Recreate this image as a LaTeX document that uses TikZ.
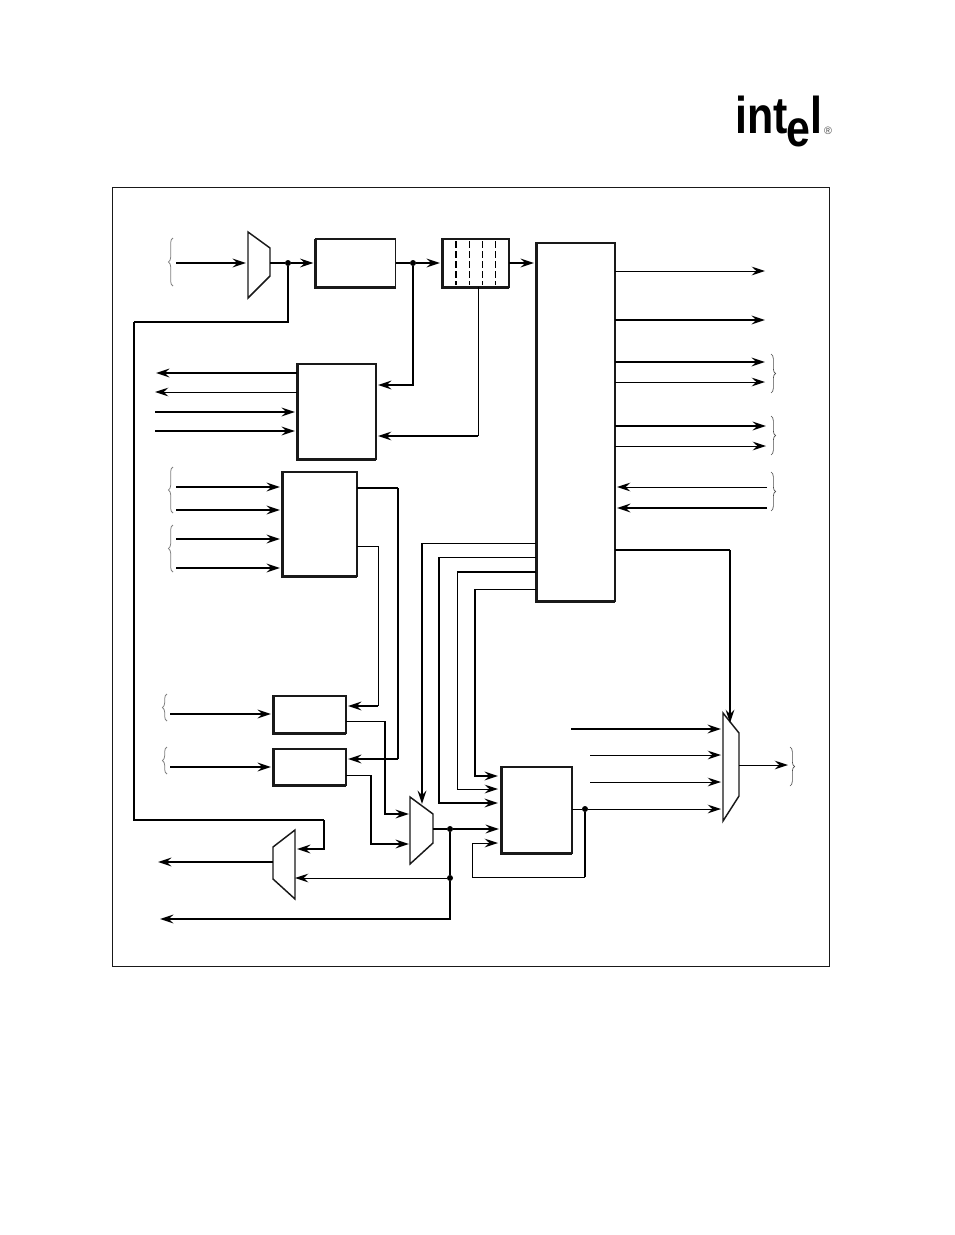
\documentclass[tikz,border=0pt]{standalone}
\usepackage{fontspec}
\setmainfont{Liberation Sans}
\usetikzlibrary{arrows.meta, calc, decorations.pathreplacing}

\begin{document}
\begin{tikzpicture}[x=0.75pt, y=-0.75pt,
    block/.style={rectangle, draw=black!90, line width=1.1pt, fill=white, inner sep=0pt, outer sep=0pt},
    mux/.style={rectangle, inner sep=0pt, outer sep=0pt},
    muxline/.style={draw=black!90, line width=1.1pt, fill=white},
    dot/.style={circle, fill=black, inner sep=0pt, outer sep=0pt, minimum size=4.5pt},
    wire/.style={line width=0.75pt},
    sig/.style={line width=1pt},
    bus/.style={line width=1.6pt},
    tip/.style={-{Stealth[length=10pt, width=6.5pt, inset=3.5pt]}},
    tipin/.style={tip, shorten >=1.5pt},
    shade edge/.style={fill=black!90},
    lbrace/.style={black!50, line width=0.6pt, decorate, decoration={brace, amplitude=3.5pt}},
    rbrace/.style={black!70, line width=0.5pt, decorate, decoration={brace, amplitude=3.5pt}},
    logo/.style={font=\fontsize{38.8}{38.8}\bfseries, xscale=0.83, inner sep=0pt, anchor=base west},
]

\useasboundingbox (0,0) rectangle (954,1235);

% === LOGO ===
\node[logo] (logoint) at (735,133) {int};
\node[logo] (logoe) at (786,146) {e};
\node[logo] (logol) at (810,133) {l};
\node[font=\fontsize{8}{8}\selectfont, black!70, inner sep=0pt] (logor) at (828,131) {\textregistered};

% === FRAME ===
\node[draw=black!90, line width=0.75pt, minimum width=538pt, minimum height=584.25pt, inner sep=0pt] (frame) at (471,576.5) {};

% === BLOCKS ===
\node[block, minimum width=60pt, minimum height=36pt] (latch) at (355.5,263) {};
\node[block, minimum width=50.25pt, minimum height=36pt] (fifo) at (475.5,263) {};
\node[block, minimum width=59.25pt, minimum height=71.25pt] (regs) at (336.5,411.5) {};
\node[block, minimum width=59.25pt, minimum height=268.5pt] (big) at (575.5,422) {};
\node[block, minimum width=56.25pt, minimum height=78pt] (ctrl) at (319.5,524) {};
\node[block, minimum width=54.75pt, minimum height=27.75pt] (upper) at (309.5,714.5) {};
\node[block, minimum width=54.75pt, minimum height=27pt] (lower) at (309.5,767) {};
\node[block, minimum width=53.25pt, minimum height=64.5pt] (alu) at (536.5,810) {};

% thick left and bottom edges
\foreach \blk in {latch,fifo,regs,big,ctrl,upper,lower,alu} {
    \fill[shade edge] ($(\blk.north west)+(-1.5,0)$) rectangle ($(\blk.south west)+(1.5,1.5)$);
    \fill[shade edge] ($(\blk.south west)+(-1.5,-1)$) rectangle ($(\blk.south east)+(0,2)$);
}

% slots of the queue
\draw[line width=1.3pt, dash pattern=on 5pt off 2.5pt] ($(fifo.north west)+(14,2)$) -- ($(fifo.south west)+(14,-2)$);
\foreach \x in {27,40.5,53.5} {
    \draw[wire, dash pattern=on 5pt off 2.5pt] ($(fifo.north west)+(\x,2)$) -- ($(fifo.south west)+(\x,-2)$);
}

% === MUXES ===
\node[mux, minimum width=16.5pt, minimum height=49.5pt] (muxa) at (259,265) {};
\node[mux, minimum width=17.25pt, minimum height=50.25pt] (muxb) at (421.5,830.5) {};
\node[mux, minimum width=16.5pt, minimum height=51.75pt] (muxc) at (284,864.5) {};
\node[mux, minimum width=12pt, minimum height=81pt] (muxd) at (731,767) {};

% narrow side on the right
\foreach \m/\a/\b in {muxa/16/22, muxb/17/21, muxd/20/25} {
    \draw[muxline] (\m.north west) -- ($(\m.north east)+(0,\a)$) -- ($(\m.south east)+(0,-\b)$) -- (\m.south west) -- cycle;
}
% narrow side on the left
\draw[muxline] (muxc.north east) -- ($(muxc.north west)+(0,17)$) -- ($(muxc.south west)+(0,-20)$) -- (muxc.south east) -- cycle;

% === DOTS ===
\node[dot] (da) at (288,263) {};
\node[dot] (db) at (413,263) {};
\node[dot] (dc) at (450,829) {};
\node[dot] (dd) at (450,878) {};
\node[dot] (de) at (585,809) {};

% === TOP ROW ===
\coordinate (ina) at (176,263);
\draw[bus, tipin] (ina) -- (ina -| muxa.west);
\draw[bus] (da -| muxa.east) -- (da);
\draw[bus, tipin] (da) -- (da -| latch.west);
\draw[bus] (latch.east |- db) -- (db);
\draw[bus, tipin] (db) -- (fifo.west);
\draw[bus, tipin] (fifo.east) -- (fifo.east -| big.west);

% feedback round the left side
\coordinate (fa) at (134,322);
\coordinate (fb) at (324,820);
\coordinate (fc) at (297,849);
\draw[sig] (da) |- (fa);
\draw[bus] (fa) -- (fa |- fb) -- (fb);
\draw[bus, tip] (fb) |- (fc);

% into the registers
\coordinate (ra) at (378,385);
\coordinate (rb) at (478,436);
\draw[bus, tipin] (db) |- (ra -| regs.east);
\draw[wire] (rb |- fifo.south) -- (rb);
\draw[sig, tipin] (rb) -- (rb -| regs.east);

% === REGISTER PORTS ===
\coordinate (pa) at (156,373);
\coordinate (pb) at (155,392);
\coordinate (pc) at (155,412);
\coordinate (pd) at (155,431);
\draw[bus, tip] (pa -| regs.west) -- (pa);
\draw[wire, tip] (pb -| regs.west) -- (pb);
\draw[bus, tipin] (pc) -- (pc -| regs.west);
\draw[bus, tipin] (pd) -- (pd -| regs.west);

% === CONTROL INPUTS ===
\foreach \y [count=\i] in {487,510,539,568} {
    \coordinate (ci\i) at (176,\y);
    \draw[bus, tipin] (ci\i) -- (ci\i -| ctrl.west);
}

% control to the two small blocks
\coordinate (cu) at (398,488);
\coordinate (cv) at (347,759);
\coordinate (cw) at (378,546);
\coordinate (cx) at (347,706);
\draw[bus] (cu -| ctrl.east) -- (cu);
\draw[sig] (cu) -- (cu |- cv);
\draw[bus, tipin] (cu |- cv) -- (cv -| lower.east);
\draw[wire] (cw -| ctrl.east) -- (cw) -- (cw |- cx);
\draw[bus, tipin] (cw |- cx) -- (cx -| upper.east);

% === SMALL BLOCK INPUTS ===
\coordinate (ua) at (170,714);
\coordinate (la) at (170,767);
\draw[bus, tipin] (ua) -- (ua -| upper.west);
\draw[bus, tipin] (la) -- (la -| lower.west);

% small blocks to the mux
\coordinate (ub) at (385,721);
\coordinate (uc) at (409,814);
\coordinate (lb) at (371,775);
\coordinate (lc) at (409,844);
\draw[wire] (ub -| upper.east) -- (ub);
\draw[bus, tip] (ub) |- (uc);
\draw[wire] (lb -| lower.east) -- (lb);
\draw[bus, tip] (lb) |- (lc);

% === MUX OUTPUTS ===
\draw[bus] (dc -| muxb.east) -- (dc);
\draw[bus, tipin] (dc) -- (dc -| alu.west);
\coordinate (oa) at (160,919);
\coordinate (ob) at (158,862);
\draw[bus] (dc) -- (dd);
\draw[bus, tip] (dd) |- (oa);
\draw[wire, tip] (dd) -- (dd -| muxc.east);
\draw[bus, tip] (ob -| muxc.west) -- (ob);

% === BIG BLOCK OUTPUTS ===
\coordinate (b1) at (765,271);
\coordinate (b2) at (765,320);
\coordinate (b3) at (765,362);
\coordinate (b4) at (765,382);
\coordinate (b5) at (766,426);
\coordinate (b6) at (766,446);
\coordinate (b7) at (767,487);
\coordinate (b8) at (767,508);
\draw[wire, tip] (b1 -| big.east) -- (b1);
\draw[bus, tip] (b2 -| big.east) -- (b2);
\draw[bus, tip] (b3 -| big.east) -- (b3);
\draw[wire, tip] (b4 -| big.east) -- (b4);
\draw[bus, tip] (b5 -| big.east) -- (b5);
\draw[wire, tip] (b6 -| big.east) -- (b6);
\draw[wire, tipin] (b7) -- (b7 -| big.east);
\draw[bus, tipin] (b8) -- (b8 -| big.east);

% big block to the mux on the right
\coordinate (b9) at (730,550);
\coordinate (b10) at (730,723);
\draw[bus] (b9 -| big.east) -- (b9);
\draw[sig, tip] (b9) -- (b10);

% === BIG BLOCK TO ALU ===
\coordinate (s1) at (422,543);
\coordinate (s2) at (439,557);
\coordinate (s3) at (457,572);
\coordinate (s4) at (475,589);
\coordinate (t1) at (422,804);
\coordinate (t2) at (498,803);
\coordinate (t3) at (498,789);
\coordinate (t4) at (498,776);
\draw[wire] (s1 -| big.west) -- (s1);
\draw[bus, tip] (s1) -- (t1);
\draw[wire] (s2 -| big.west) -- (s2);
\draw[bus, tip] (s2) |- (t2);
\draw[bus] (s3 -| big.west) -- (s3);
\draw[wire, tip] (s3) |- (t3);
\draw[wire] (s4 -| big.west) -- (s4);
\draw[bus, tip] (s4) |- (t4);

% === ALU OUTPUT AND LOOP BACK ===
\coordinate (lp) at (472,877);
\coordinate (lq) at (498,843);
\draw[wire] (alu.east |- de) -- (de);
\draw[bus] (de) -- (de |- lp);
\draw[wire, tip] (de |- lp) -- (lp) |- (lq);
\draw[wire, tipin] (de) -- (de -| muxd.west);

% === RIGHT MUX ===
\coordinate (ma) at (571,729);
\coordinate (mb) at (590,755);
\coordinate (mc) at (590,782);
\coordinate (md) at (788,765);
\draw[bus, tipin] (ma) -- (ma -| muxd.west);
\draw[wire, tipin] (mb) -- (mb -| muxd.west);
\draw[wire, tipin] (mc) -- (mc -| muxd.west);
\draw[wire, tip] (md -| muxd.east) -- (md);

% === BRACES ===
\foreach \x/\a/\b in {173/238/286, 173/467/513, 173/525/572, 167/694/721, 167/747/774} {
    \draw[lbrace] (\x,\b) -- (\x,\a);
}
\foreach \x/\a/\b in {771/354/393, 771/416/455, 771/472/511, 790/747/786} {
    \draw[rbrace] (\x,\a) -- (\x,\b);
}

\end{tikzpicture}
\end{document}
